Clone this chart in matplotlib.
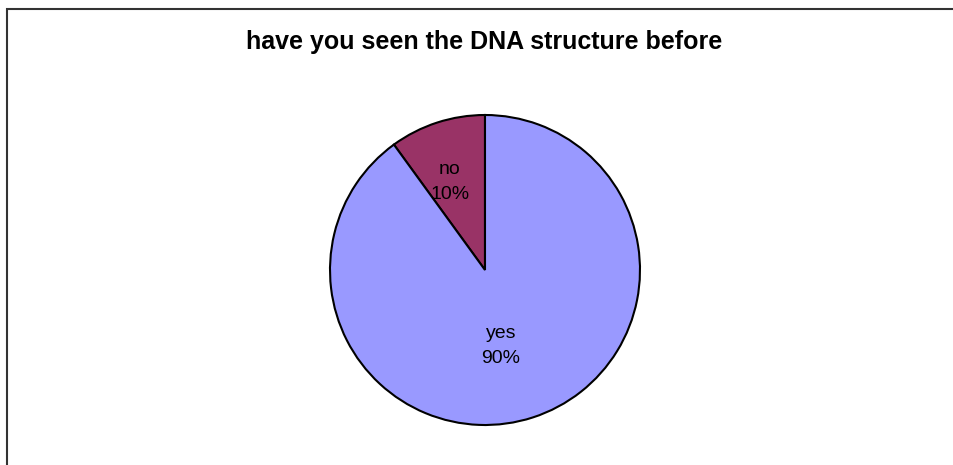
import matplotlib
matplotlib.use("Agg")
import numpy as np
import matplotlib.pyplot as plt
from matplotlib.patches import Rectangle

title = "have you seen the DNA structure before"
categories = ["no", "yes"]
values = [10, 90]
colours = ["#993366", "#9999FF"]

W, H = 954, 465
fig = plt.figure(figsize=(W / 100, H / 100), dpi=100)
plt.rcParams['font.family'] = ['Liberation Sans', 'DejaVu Sans']

# pie centre and radius in pixels
cx, cy, r = 485, 270, 155
ax = fig.add_axes([(cx - r) / W, (H - cy - r) / H, 2 * r / W, 2 * r / H])
wedges, texts = ax.pie(values, colors=colours, startangle=90, counterclock=True,
                       labels=[f"{c}\n{v}%" for c, v in zip(categories, values)],
                       labeldistance=0.55,
                       wedgeprops=dict(edgecolor="black", linewidth=1.5),
                       textprops=dict(fontsize=14, ha="center", va="center", linespacing=1.6))
# move labels a bit per wedge (distance, angle shift in degrees)
tweaks = [(0.61, 4), (0.5, -6)]
for w, t, (d, da) in zip(wedges, texts, tweaks):
    ang = np.deg2rad((w.theta1 + w.theta2) / 2 + da)
    t.set_position((d * np.cos(ang), d * np.sin(ang)))
ax.set_xlim(-1, 1)
ax.set_ylim(-1, 1)
ax.set_aspect("equal")

fig.text(484.5 / W, 1 - 42 / H, title, ha="center", va="center", fontsize=18, fontweight="bold")

# chart border (left and top visible)
fig.add_artist(Rectangle((7 / W, -0.05), 1.0, 1.05 - 9.5 / H, transform=fig.transFigure,
                         fill=False, edgecolor="#333333", linewidth=1.5))

fig.savefig("out.png", dpi=100)
